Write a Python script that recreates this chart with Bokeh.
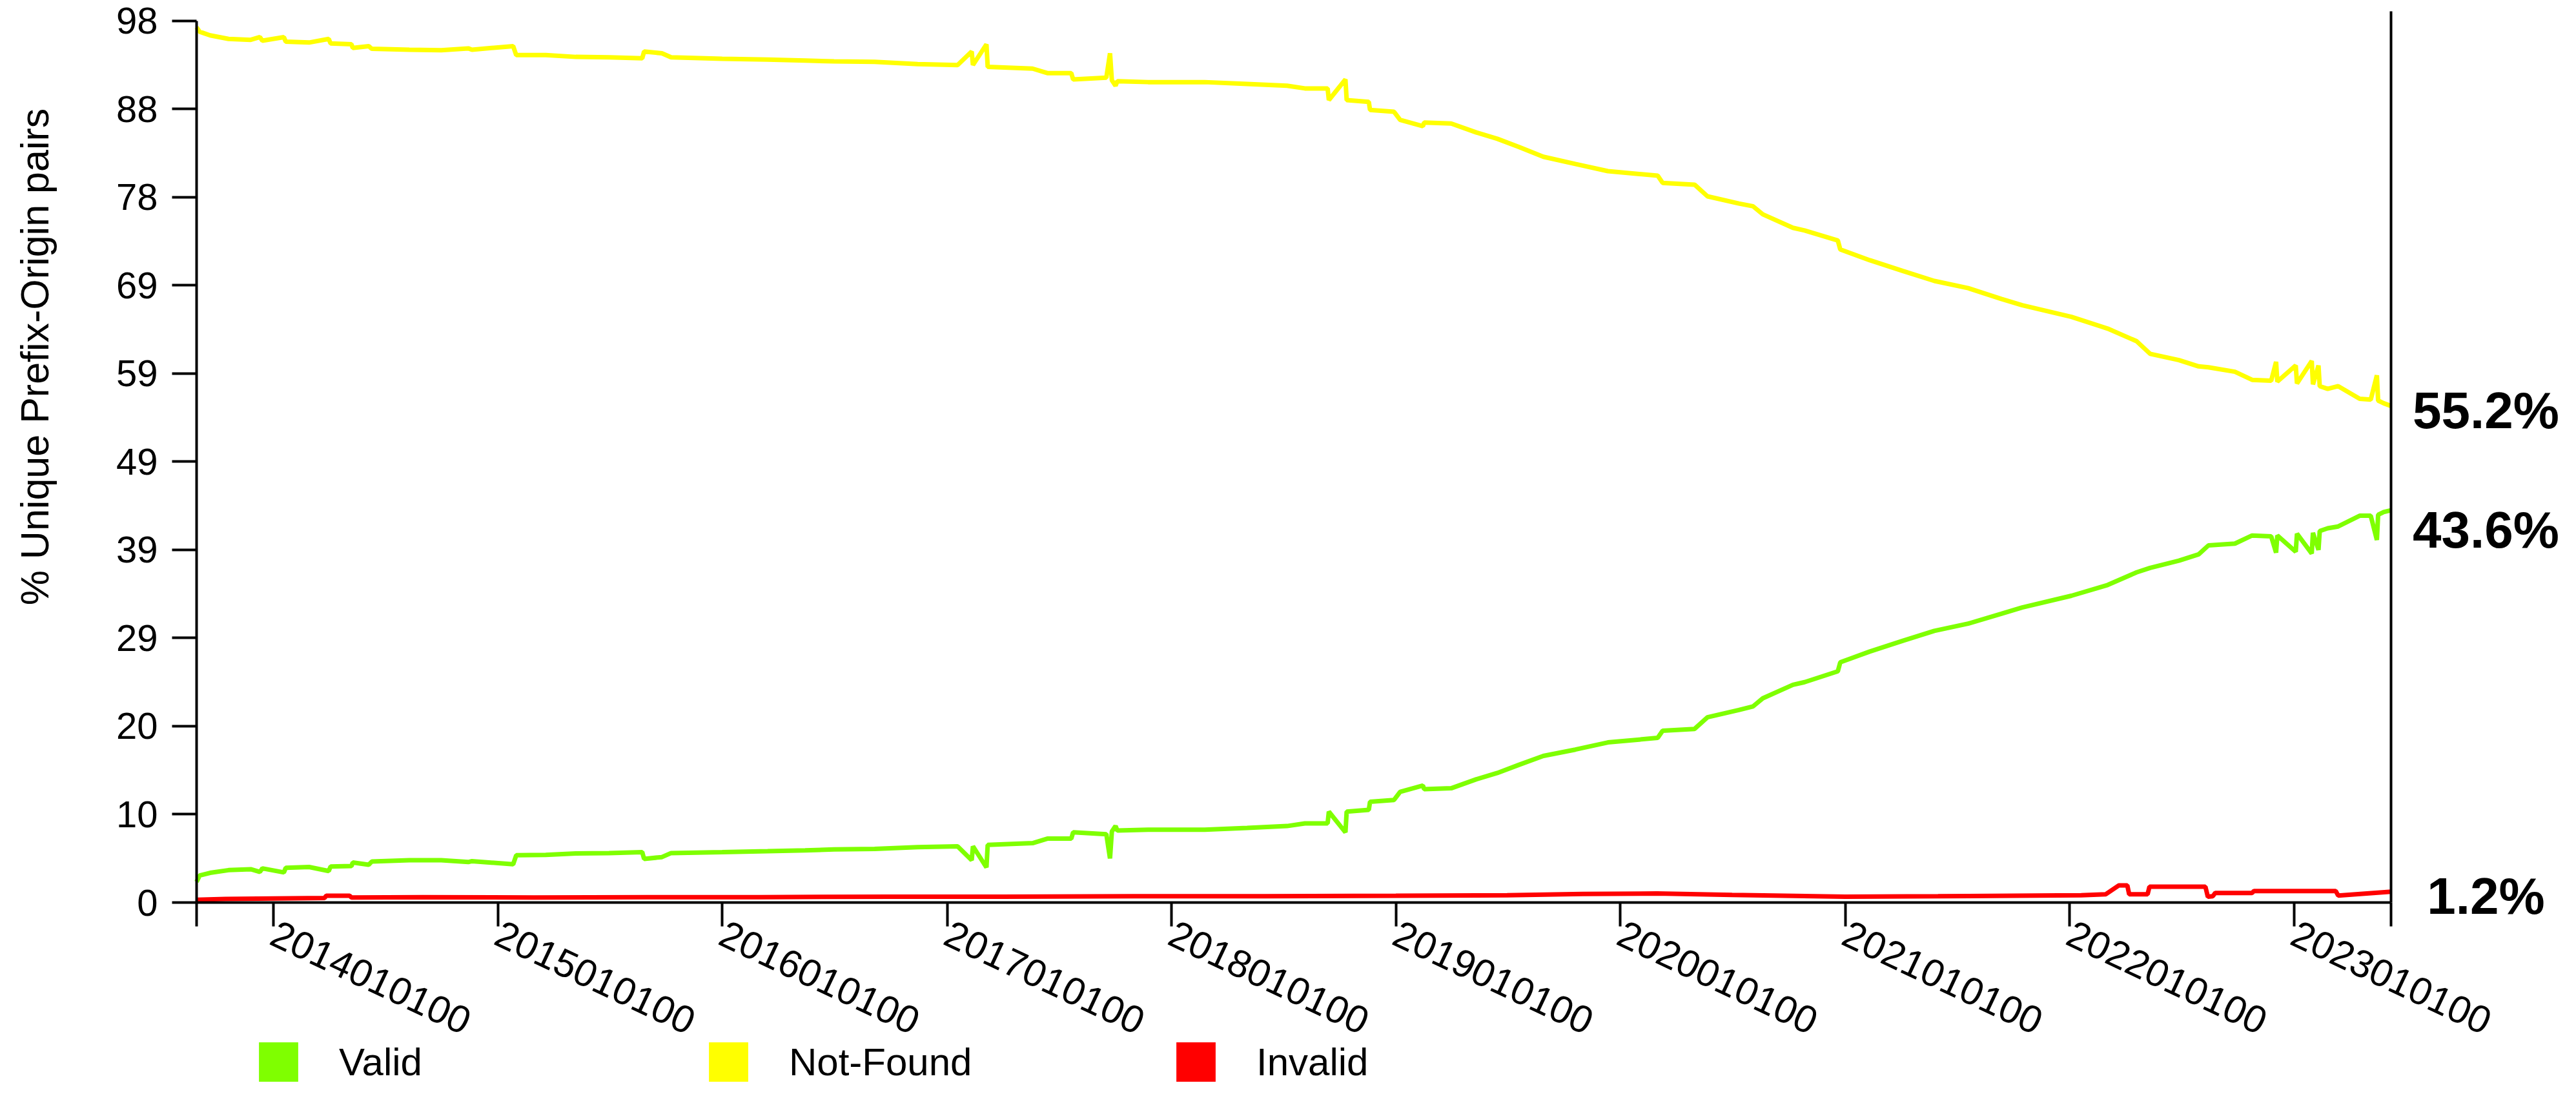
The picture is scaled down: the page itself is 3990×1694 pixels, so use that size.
import math
import pandas as pd
from bokeh.plotting import figure
from bokeh.models import (Range1d, FixedTicker, LinearAxis, Legend, LegendItem,
                          Label, ColumnDataSource)
from bokeh.embed import file_html
from bokeh.resources import INLINE

# ---------------- data ----------------
dates = [
    "2013-08-29", "2013-09-03", "2013-09-20", "2013-10-20", "2013-11-25", "2013-12-10",
    "2013-12-14", "2014-01-18", "2014-01-21", "2014-02-28", "2014-04-01", "2014-04-04",
    "2014-05-08", "2014-05-10", "2014-06-05", "2014-06-10", "2014-08-10", "2014-10-01",
    "2014-11-14", "2014-11-20", "2015-01-26", "2015-01-31", "2015-03-20", "2015-05-08",
    "2015-07-01", "2015-08-24", "2015-08-27", "2015-09-25", "2015-10-10", "2016-01-01",
    "2016-03-15", "2016-05-15", "2016-07-01", "2016-09-05", "2016-11-14", "2017-01-18",
    "2017-02-10", "2017-02-12", "2017-03-06", "2017-03-08", "2017-05-20", "2017-06-13",
    "2017-07-22", "2017-07-25", "2017-09-17", "2017-09-23", "2017-09-26", "2017-10-02",
    "2017-10-05", "2017-11-24", "2018-02-24", "2018-05-04", "2018-07-08", "2018-08-06",
    "2018-09-12", "2018-09-14", "2018-10-11", "2018-10-13", "2018-11-18", "2018-11-20",
    "2018-12-29", "2019-01-08", "2019-02-14", "2019-02-16", "2019-04-01", "2019-05-12",
    "2019-06-15", "2019-07-20", "2019-08-29", "2019-10-20", "2019-12-12", "2020-03-02",
    "2020-03-10", "2020-05-01", "2020-05-22", "2020-07-12", "2020-08-04", "2020-08-20",
    "2020-10-08", "2020-10-27", "2020-12-20", "2020-12-24", "2021-02-10", "2021-04-05",
    "2021-05-26", "2021-07-20", "2021-09-12", "2021-10-16", "2022-01-04", "2022-03-04",
    "2022-04-20", "2022-05-12", "2022-06-28", "2022-07-30", "2022-08-15", "2022-09-27",
    "2022-10-25", "2022-11-25", "2022-12-03", "2022-12-05", "2023-01-04", "2023-01-06",
    "2023-01-30", "2023-02-01", "2023-02-10", "2023-02-12", "2023-02-25", "2023-03-14",
    "2023-04-18", "2023-05-06", "2023-05-16", "2023-05-18", "2023-05-27", "2023-06-08",
]
not_found = [
    97.3, 96.8, 96.4, 96.0, 95.9, 96.2,
    95.8, 96.2, 95.7, 95.6, 96.0, 95.5,
    95.4, 95.0, 95.2, 94.9, 94.8, 94.75,
    94.95, 94.8, 95.2, 94.2, 94.2, 94.0,
    93.95, 93.85, 94.6, 94.4, 93.95, 93.8,
    93.7, 93.6, 93.5, 93.45, 93.2, 93.1,
    94.6, 93.1, 95.4, 92.9, 92.7, 92.2,
    92.2, 91.5, 91.7, 94.4, 91.4, 90.8,
    91.3, 91.2, 91.2, 91.0, 90.8, 90.5,
    90.5, 89.2, 91.5, 89.2, 89.0, 88.1,
    87.9, 87.0, 86.3, 86.7, 86.6, 85.6,
    84.9, 84.0, 82.9, 82.1, 81.3, 80.8,
    80.0, 79.8, 78.5, 77.7, 77.4, 76.5,
    75.0, 74.7, 73.6, 72.6, 71.4, 70.2,
    69.1, 68.3, 67.1, 66.4, 65.1, 63.8,
    62.4, 61.0, 60.3, 59.6, 59.5, 59.0,
    58.1, 58.0, 60.1, 57.9, 59.7, 57.7,
    60.2, 57.6, 59.7, 57.4, 57.1, 57.4,
    56.0, 55.9, 58.6, 55.8, 55.5, 55.2,
]
valid = [
    2.3, 3.0, 3.3, 3.6, 3.7, 3.4,
    3.8, 3.35, 3.85, 3.95, 3.5, 4.0,
    4.05, 4.45, 4.2, 4.55, 4.7, 4.7,
    4.5, 4.6, 4.25, 5.25, 5.3, 5.45,
    5.5, 5.6, 4.85, 5.05, 5.5, 5.6,
    5.7, 5.8, 5.9, 5.95, 6.15, 6.25,
    4.7, 6.25, 3.9, 6.4, 6.6, 7.1,
    7.1, 7.8, 7.6, 4.9, 7.9, 8.5,
    8.0, 8.1, 8.1, 8.3, 8.5, 8.8,
    8.8, 10.1, 7.8, 10.1, 10.3, 11.2,
    11.4, 12.3, 13.0, 12.6, 12.7, 13.7,
    14.4, 15.3, 16.3, 17.0, 17.8, 18.3,
    19.1, 19.3, 20.6, 21.4, 21.8, 22.7,
    24.2, 24.5, 25.7, 26.7, 27.9, 29.1,
    30.2, 31.0, 32.1, 32.8, 34.1, 35.3,
    36.7, 37.2, 38.0, 38.7, 39.7, 39.9,
    40.8, 40.7, 38.9, 40.8, 39.0, 41.0,
    38.8, 41.1, 39.2, 41.3, 41.6, 41.8,
    43.0, 43.0, 40.3, 43.1, 43.4, 43.6,
]
invalid_dates = [
    "2013-08-29", "2013-10-15", "2014-01-01", "2014-03-25", "2014-03-28", "2014-05-05",
    "2014-05-08", "2014-09-01", "2015-03-01", "2015-09-01", "2016-03-01", "2016-10-01",
    "2017-04-01", "2017-11-01", "2018-06-01", "2019-01-01", "2019-07-01", "2019-11-01",
    "2020-03-01", "2020-07-01", "2021-01-01", "2021-06-01", "2021-10-01", "2022-01-20",
    "2022-03-01", "2022-03-22", "2022-04-05", "2022-04-08", "2022-05-08", "2022-05-11",
    "2022-08-10", "2022-08-14", "2022-08-22", "2022-08-26", "2022-10-25", "2022-10-28",
    "2023-03-10", "2023-03-14", "2023-06-08",
]
invalid = [
    0.3, 0.4, 0.45, 0.5, 0.75, 0.75,
    0.55, 0.6, 0.55, 0.6, 0.6, 0.65,
    0.65, 0.7, 0.7, 0.75, 0.8, 0.95,
    1.0, 0.85, 0.65, 0.7, 0.75, 0.8,
    0.92, 1.9, 1.9, 0.92, 0.92, 1.76,
    1.76, 0.64, 0.7, 1.06, 1.06, 1.28,
    1.28, 0.78, 1.2,
]

series_names = ["Valid", "Not-Found", "Invalid"]
series_colors = ["#7FFF00", "#FFFF00", "#FF0000"]
end_values = [55.2, 43.6, 1.2]
end_labels = ["55.2%", "43.6%", "1.2%"]

x_tick_dates = ["2013-08-29", "2014-01-01", "2015-01-01", "2016-01-01", "2017-01-01",
                "2018-01-01", "2019-01-01", "2020-01-01", "2021-01-01", "2022-01-01",
                "2023-01-01", "2023-06-08"]
x_tick_labels = ["", "2014010100", "2015010100", "2016010100", "2017010100",
                 "2018010100", "2019010100", "2020010100", "2021010100", "2022010100",
                 "2023010100", ""]
y_ticks = [0, 9.8, 19.6, 29.4, 39.2, 49, 58.8, 68.6, 78.4, 88.2, 98]
y_tick_labels = ["0", "10", "20", "29", "39", "49", "59", "69", "78", "88", "98"]
y_title = "% Unique Prefix-Origin pairs"
y_axis_top = 98
y_frame_top = 99.07

# ---------------- layout (pixels) ----------------
FONT = "Liberation Sans"
W, H = 3974, 1678              # canvas
PLOT_L, PLOT_R = 304, 3703     # x of first / last date on the canvas
PLOT_T, PLOT_B = 17, 1397      # y of y_frame_top / 0 on the canvas


def ms(s):
    return int(pd.Timestamp(s).value // 10**6)


t0, t1 = ms(dates[0]), ms(dates[-1])
px_x = (PLOT_R - PLOT_L) / (t1 - t0)
px_y = (PLOT_B - PLOT_T) / y_frame_top
x_range = Range1d(t0 - PLOT_L / px_x, t1 + (W - PLOT_R) / px_x)
y_range = Range1d(-(H - PLOT_B) / px_y, y_frame_top + PLOT_T / px_y)

src = ColumnDataSource(dict(date=pd.to_datetime(dates), nf=not_found, valid=valid))
src_inv = ColumnDataSource(dict(date=pd.to_datetime(invalid_dates), inv=invalid))

p = figure(x_axis_type="datetime", x_range=x_range, y_range=y_range,
           width=W, height=H, min_border=0,
           output_backend="svg", toolbar_location=None)
p.title.visible = False
p.xgrid.grid_line_color = None
p.ygrid.grid_line_color = None
p.outline_line_color = None

# lines
p.line(x="date", y="nf", source=src, line_color=series_colors[1], line_width=7)
p.line(x="date", y="valid", source=src, line_color=series_colors[0], line_width=7)
p.line(x="date", y="inv", source=src_inv, line_color=series_colors[2], line_width=7)

# x axis (drawn at y = 0)
xa = p.xaxis[0]
xa.fixed_location = 0
xa.bounds = (t0, t1)
xa.ticker = FixedTicker(ticks=[ms(d) for d in x_tick_dates])
xa.major_label_overrides = {ms(d): lab for d, lab in zip(x_tick_dates, x_tick_labels)}
xa.major_label_orientation = -0.44
xa.major_label_text_font = FONT
xa.major_label_text_font_size = "60px"
xa.major_label_text_color = "black"
xa.major_label_standoff = 8
xa.axis_line_width = 4
xa.axis_line_color = "black"
xa.major_tick_line_width = 4
xa.major_tick_line_color = "black"
xa.major_tick_in = 0
xa.major_tick_out = 37
xa.minor_tick_line_color = None


def key(v):
    return int(v) if float(v).is_integer() else v


# y axis (drawn at the first date)
ya = p.yaxis[0]
ya.fixed_location = t0
ya.bounds = (0, y_axis_top)
ya.ticker = FixedTicker(ticks=y_ticks)
ya.major_label_overrides = {key(v): lab for v, lab in zip(y_ticks, y_tick_labels)}
ya.major_label_text_font = FONT
ya.major_label_text_font_size = "58px"
ya.major_label_text_color = "black"
ya.major_label_standoff = 22
ya.axis_line_width = 4
ya.axis_line_color = "black"
ya.major_tick_line_width = 4
ya.major_tick_line_color = "black"
ya.major_tick_in = 0
ya.major_tick_out = 38
ya.minor_tick_line_color = None

# right spine (drawn at the last date)
ra = LinearAxis(fixed_location=t1, bounds=(0, y_frame_top),
                ticker=FixedTicker(ticks=[]), major_label_text_font_size="0px",
                axis_line_width=4, axis_line_color="black",
                major_tick_line_color=None, minor_tick_line_color=None)
p.add_layout(ra, "right")

# y title
p.add_layout(Label(x=53, y=60.66, x_units="screen", y_units="data", text=y_title,
                   angle=math.pi / 2, text_align="center", text_baseline="middle",
                   text_font=FONT, text_font_size="61px", text_color="black"))

# end labels
end_dy = [-7, -30, -7]
for v, lab, dy in zip(end_values, end_labels, end_dy):
    p.add_layout(Label(x=t1, y=v, x_offset=147, y_offset=dy, text=lab,
                       text_align="center", text_baseline="alphabetic",
                       text_font=FONT, text_font_style="bold", text_font_size="80px",
                       text_color="black"))

# legend (three separate boxes along the bottom); each swatch uses a
# zero-size quad anchored at the series' last point so nothing extra is drawn
legend_x_px = [393, 1090, 1814]
legend_anchor = [valid[-1], not_found[-1], invalid[-1]]
for name, color, lx, ay in zip(series_names, series_colors, legend_x_px, legend_anchor):
    sw = ColumnDataSource(dict(l=[t1], r=[t1], t=[ay], b=[ay]))
    r = p.quad(left="l", right="r", top="t", bottom="b", source=sw,
               fill_color=color, line_color=None)
    leg = Legend(items=[LegendItem(label=name, renderers=[r])],
                 location=(lx, -4), orientation="horizontal",
                 glyph_width=76, glyph_height=76, label_standoff=56,
                 label_text_font=FONT, label_text_font_size="60px",
                 label_text_color="black",
                 border_line_color=None, background_fill_alpha=0,
                 padding=0, margin=0, spacing=0)
    p.add_layout(leg)

open("out.html", "w").write(file_html(p, INLINE))
